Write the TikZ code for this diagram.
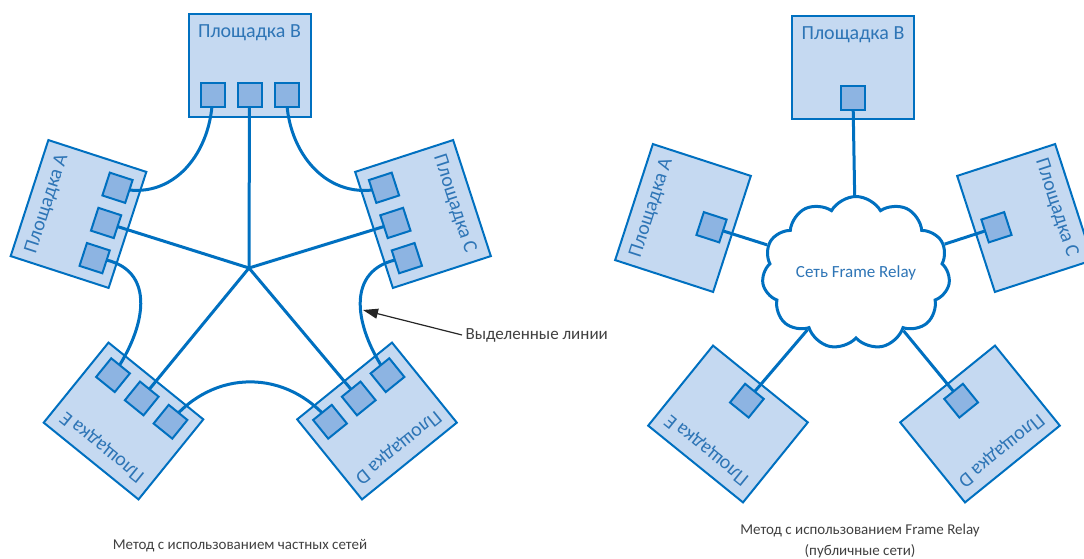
\documentclass[tikz,border=0pt]{standalone}
\usepackage{fontspec}
\setmainfont{Carlito}
\usetikzlibrary{shapes.symbols,arrows.meta}
\definecolor{netblue}{RGB}{0,112,192}
\definecolor{labelblue}{RGB}{46,117,182}
\definecolor{sitefill}{RGB}{197,217,241}
\definecolor{portfill}{RGB}{141,180,226}
\definecolor{captgray}{RGB}{64,64,64}
\pgfdeclarelayer{boxes}
\pgfdeclarelayer{links}
\pgfsetlayers{boxes,links,main}
\begin{document}
\begin{tikzpicture}[
        x=1pt, y=1pt,
        site/.style={
            draw=netblue,
            fill=sitefill,
            line width=2pt,
            minimum width=122pt,
            minimum height=103pt,
            inner sep=0pt
        },
        port/.style={
            draw=netblue,
            fill=portfill,
            line width=2pt,
            minimum size=24pt,
            inner sep=0pt
        },
        sitelabel/.style={
            text=labelblue,
            font=\fontsize{20}{23}\selectfont,
            inner sep=0pt
        },
        link/.style={
            draw=netblue,
            line width=3pt
        },
        note/.style={
            text=captgray,
            font=\fontsize{15}{21}\selectfont,
            align=center
        }
    ]
        \useasboundingbox (0,0) rectangle (1084,558);

        % --- Частные сети: пять площадок по три порта ---
        \foreach \nm/\cx/\cy/\rot in {B/249.5/492/0, A/78.5/344/72, C/423/344/-72, E/123.5/137/141, D/377/137/-141} {
            \begin{scope}[shift={(\cx,\cy)}, rotate=\rot]
                \begin{pgfonlayer}{boxes}
                    \node[site, rotate=\rot] (site\nm) at (0,0) {};
                    \node[sitelabel, rotate=\rot] (label\nm) at (0,33) {Площадка \nm};
                \end{pgfonlayer}
                \foreach \i/\dx in {1/-37, 2/0, 3/37}
                    \node[port, rotate=\rot] (\nm\i) at (\dx,-29) {};
            \end{scope}
        }

        % --- Выделенные линии ---
        \begin{pgfonlayer}{links}
            \coordinate (hub) at (249,290);
            \foreach \nm in {A,B,C,D,E}
                \draw[link] (\nm2.center) -- (hub);
            \foreach \from/\to/\ao/\ai/\lo in {B/A/-90/-15/1.1, A/E/-5/55/1.35, E/D/51/129/1.1, D/C/125/185/1.35, C/B/195/270/1.1}
                \draw[link] (\from1.center) to[out=\ao, in=\ai, looseness=\lo] (\to3.center);
        \end{pgfonlayer}

        \node[note, anchor=west, font=\fontsize{17}{20}\selectfont] (leased) at (462,223) {Выделенные линии};
        \coordinate (leasedtip) at (363,248);
        \draw[-{Triangle[length=15pt,width=10pt]}, line width=1.2pt, black!85] (leased.west) -- (leasedtip);

        % --- Frame Relay: по одному порту ---
        \foreach \nm/\cx/\cy/\rot in {B/853/490/0, A/683/340/72, C/1025/340/-72, E/728/134/141, D/980/134/-141} {
            \begin{scope}[shift={(\cx,\cy)}, rotate=\rot]
                \begin{pgfonlayer}{boxes}
                    \node[site, rotate=\rot] (rsite\nm) at (0,0) {};
                    \node[sitelabel, rotate=\rot] (rlabel\nm) at (0,33) {Площадка \nm};
                \end{pgfonlayer}
                \node[port, rotate=\rot] (r\nm) at (0,-30) {};
            \end{scope}
        }

        \node[cloud, cloud puffs=11, cloud puff arc=120, aspect=1.3, draw=netblue, fill=white,
              line width=3pt, minimum width=188pt, minimum height=144pt, inner sep=0pt,
              text=labelblue, font=\fontsize{17}{20}\selectfont] (relay) at (856,285) {Сеть Frame Relay};

        \begin{pgfonlayer}{links}
            \foreach \nm in {A,B,C,D,E}
                \draw[link] (r\nm.center) -- (relay);
        \end{pgfonlayer}

        % --- Подписи ---
        \node[note] (capleft) at (240,12) {Метод с использованием частных сетей};
        \node[note] (capright) at (860,17) {Метод с использованием Frame Relay\\(публичные сети)};
    \end{tikzpicture}
\end{document}
